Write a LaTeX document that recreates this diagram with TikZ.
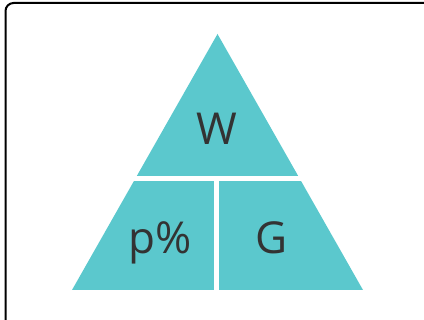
\documentclass[tikz,border=0pt]{standalone}
\usepackage{fontspec}
\setmainfont{Open Sans}
\definecolor{teal}{HTML}{5BC8CD}
\definecolor{ink}{HTML}{333333}
\begin{document}
\begin{tikzpicture}[
    x=1pt, y=-1pt,
    label/.style={anchor=base, text=ink, font=\fontsize{44}{48}\selectfont, inner sep=0pt},
    gap/.style={draw=white, line width=5pt}
]
    \useasboundingbox (0,0) rectangle (424,320);
    \draw [line width=2pt, rounded corners=8pt] (5.5,3) rectangle (440,340);

    \coordinate (apex) at (217.5,34);
    \coordinate (left) at (72,290);
    \coordinate (right) at (363,290);
    \fill [teal] (apex) -- (right) -- (left) -- cycle;

    \coordinate (gapl) at (120,178.5);
    \coordinate (gapr) at (315,178.5);
    \coordinate (gapm) at (216.5,178.5);
    \coordinate (gapb) at (216.5,295);
    \draw [gap] (gapl) -- (gapr);
    \draw [gap] (gapm) -- (gapb);

    \node [label] (w) at (217,145) {W};
    \node [label] (p) at (160,254) {p\%};
    \node [label] (g) at (272,254) {G};
\end{tikzpicture}
\end{document}
